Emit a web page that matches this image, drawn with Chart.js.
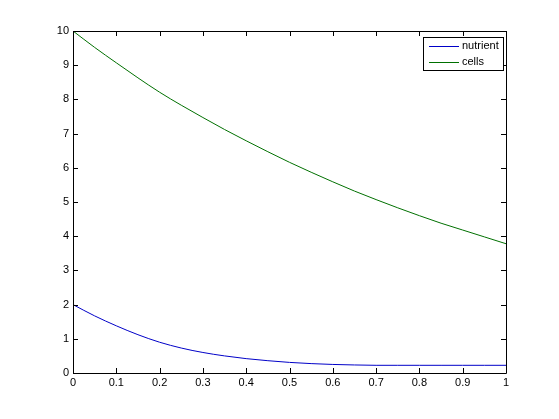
<!DOCTYPE html>
<html>
<head>
<meta charset="utf-8">
<script src="https://cdn.jsdelivr.net/npm/chart.js@4/dist/chart.umd.min.js"></script>
<style>
html,body{margin:0;padding:0;background:#fff;}
#wrap{width:559px;height:419px;}
</style>
</head>
<body>
<div id="wrap"><canvas id="c" width="559" height="419"></canvas></div>
<script>
const tValues = [0,0.05,0.1,0.15,0.2,0.25,0.3,0.35,0.4,0.45,0.5,0.55,0.6,0.65,0.7,0.75,0.8,0.85,0.9,0.95,1.0];
const nutrient = [2.0,1.67,1.38,1.12,0.90,0.73,0.60,0.50,0.42,0.36,0.31,0.275,0.25,0.235,0.225,0.225,0.225,0.225,0.225,0.225,0.225];
const cells = [10,9.52,9.07,8.63,8.21,7.83,7.47,7.12,6.79,6.47,6.16,5.87,5.59,5.32,5.07,4.83,4.60,4.38,4.18,3.98,3.78];
const seriesLabels = ['nutrient','cells'];
const seriesColors = ['#0000c8','#007000'];
const xTicks = [0,0.1,0.2,0.3,0.4,0.5,0.6,0.7,0.8,0.9,1];
const yTicks = [0,1,2,3,4,5,6,7,8,9,10];

const FONT = 'Liberation Sans, Arial, sans-serif';

const boxPlugin = {
  id: 'matlabBox',
  afterDatasetsDraw(chart) {
    const {ctx, chartArea: a, scales} = chart;
    ctx.save();
    ctx.strokeStyle = '#000';
    ctx.lineWidth = 1;
    ctx.beginPath();
    ctx.rect(Math.round(a.left)+0.5, Math.round(a.top)+0.5, Math.round(a.right-a.left), Math.round(a.bottom-a.top));
    ctx.stroke();
    const tl = 5;
    ctx.beginPath();
    xTicks.forEach(v => {
      const x = Math.round(scales.x.getPixelForValue(v)) + 0.5;
      ctx.moveTo(x, a.bottom); ctx.lineTo(x, a.bottom - tl);
      ctx.moveTo(x, a.top); ctx.lineTo(x, a.top + tl);
    });
    yTicks.forEach(v => {
      const y = Math.round(scales.y.getPixelForValue(v)) + 0.5;
      ctx.moveTo(a.left, y); ctx.lineTo(a.left + tl, y);
      ctx.moveTo(a.right, y); ctx.lineTo(a.right - tl, y);
    });
    ctx.stroke();
    // legend
    const lx = 423.5, ly = 37.5, lw = 80, lh = 33;
    ctx.fillStyle = '#fff';
    ctx.fillRect(lx, ly, lw, lh);
    ctx.strokeRect(lx, ly, lw, lh);
    ctx.font = '11px ' + FONT;
    ctx.textBaseline = 'middle';
    chart.data.datasets.forEach((ds, i) => {
      const yy = ly + 8 + i * 16;
      ctx.strokeStyle = ds.borderColor;
      ctx.beginPath();
      ctx.moveTo(429, Math.round(yy) + 0.5);
      ctx.lineTo(459, Math.round(yy) + 0.5);
      ctx.stroke();
      ctx.fillStyle = '#000';
      ctx.fillText(ds.label, 462, yy);
    });
    ctx.restore();
  }
};

new Chart(document.getElementById('c'), {
  type: 'line',
  data: {
    labels: tValues,
    datasets: [
      {label: seriesLabels[0], data: tValues.map((t,i)=>({x:t,y:nutrient[i]})), borderColor: seriesColors[0], borderWidth: 1, pointRadius: 0, cubicInterpolationMode: 'monotone', fill: false},
      {label: seriesLabels[1], data: tValues.map((t,i)=>({x:t,y:cells[i]})), borderColor: seriesColors[1], borderWidth: 1, pointRadius: 0, cubicInterpolationMode: 'monotone', fill: false}
    ]
  },
  options: {
    responsive: false,
    animation: false,
    layout: {padding: {left: 0, right: 53, top: 31, bottom: 0}},
    plugins: {legend: {display: false}, tooltip: {enabled: false}, title: {display: false}},
    scales: {
      x: {
        type: 'linear', min: 0, max: 1,
        afterBuildTicks: s => { s.ticks = xTicks.map(v => ({value: v})); },
        afterFit: s => { s.height = 46; },
        grid: {display: false, drawTicks: false},
        border: {display: false},
        ticks: {color: '#000', font: {family: FONT, size: 11}, padding: 3, maxRotation: 0, callback: v => String(v)}
      },
      y: {
        type: 'linear', min: 0, max: 10,
        afterBuildTicks: s => { s.ticks = yTicks.map(v => ({value: v})); },
        afterFit: s => { s.width = 73; },
        grid: {display: false, drawTicks: false},
        border: {display: false},
        ticks: {color: '#000', font: {family: FONT, size: 11}, padding: 4, callback: v => String(v)}
      }
    }
  },
  plugins: [boxPlugin]
});
</script>
</body>
</html>
